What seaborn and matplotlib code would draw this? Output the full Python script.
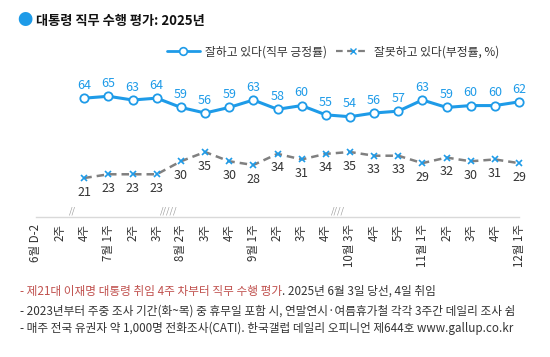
import matplotlib
matplotlib.use("Agg")
import matplotlib.pyplot as plt
import seaborn as sns
import pandas as pd
import numpy as np
from matplotlib.lines import Line2D

# data
weeks = ["6월 D-2", "2주", "4주", "7월 1주", "2주", "3주", "8월 2주", "3주", "4주",
         "9월 1주", "2주", "3주", "4주", "10월 3주", "4주", "5주", "11월 1주",
         "2주", "3주", "4주", "12월 1주"]
approve = [np.nan, np.nan, 64, 65, 63, 64, 59, 56, 59, 63, 58, 60, 55, 54, 56, 57, 63, 59, 60, 60, 62]
disapprove = [np.nan, np.nan, 21, 23, 23, 23, 30, 35, 30, 28, 34, 31, 34, 35, 33, 33, 29, 32, 30, 31, 29]
breaks = {1.5: "//", 5.5: "/////", 12.5: "////"}

BLUE = "#1e9be8"
GRAY = "#808080"
RED = "#c0504d"
TXT = "#333333"

sns.set_style("white")
plt.rcParams['font.family'] = ['Noto Sans CJK KR', 'DejaVu Sans']

df = pd.DataFrame({"x": range(len(weeks)), "approve": approve, "disapprove": disapprove})

W, H = 550, 357
fig = plt.figure(figsize=(W / 100, H / 100), dpi=100)
ax = fig.add_axes([36 / W, (H - 217) / H, 483 / W, 130 / H])

sns.lineplot(data=df, x="x", y="approve", ax=ax, color=BLUE, lw=2.2,
             marker="o", markersize=6, markerfacecolor="white",
             markeredgecolor=BLUE, markeredgewidth=1.3, clip_on=False)
sns.lineplot(data=df, x="x", y="disapprove", ax=ax, color=GRAY, lw=1.8,
             linestyle=(0, (3, 2)), marker="x", markersize=5,
             markeredgecolor=BLUE, markeredgewidth=1.2, clip_on=False)

for x, a, d in zip(df["x"], approve, disapprove):
    if np.isnan(a):
        continue
    ax.annotate(f"{a:.0f}", (x, a), xytext=(0, 4.5), textcoords="offset points",
                ha="center", va="bottom", color=BLUE, fontsize=9, fontweight="medium")
    ax.annotate(f"{d:.0f}", (x, d), xytext=(0, -5.5), textcoords="offset points",
                ha="center", va="top", color=TXT, fontsize=9)

ax.set_xlim(0, len(weeks) - 1)
ax.set_ylim(0, 70)
ax.set_xticks(df["x"])
ax.set_xticklabels(weeks, rotation=90, fontsize=8.3, color=TXT)
ax.tick_params(axis="x", direction="inout", length=4, color="#d0d0d0", pad=3)
ax.set_yticks([])
ax.set_xlabel("")
ax.set_ylabel("")
for s in ["top", "right", "left"]:
    ax.spines[s].set_visible(False)
ax.spines["bottom"].set_color("#d9d9d9")
ax.spines["bottom"].set_linewidth(1)
if ax.get_legend():
    ax.get_legend().remove()

for bx, mark in breaks.items():
    ax.text(bx, 0.6, mark, ha="center", va="bottom", fontsize=6.5,
            color="#999999", style="italic")

# title
fig.text(25 / W, 1 - 21 / H, "●", color=BLUE, fontsize=11, ha="center", va="center")
fig.text(36 / W, 1 - 21 / H, "대통령 직무 수행 평가: 2025년", color="#111111",
         fontsize=9.5, fontweight="bold", ha="left", va="center")

# legend
handles = [
    Line2D([], [], color=BLUE, lw=2, marker="o", markersize=5.5,
           markerfacecolor="white", markeredgecolor=BLUE, markeredgewidth=1.2),
    Line2D([], [], color=GRAY, lw=1.6, linestyle=(0, (3, 2)), marker="x",
           markersize=4.5, markeredgecolor=BLUE),
]
fig.legend(handles, ["잘하고 있다(직무 긍정률)", "잘못하고 있다(부정률, %)"],
           loc="center", bbox_to_anchor=(333 / W, 1 - 52 / H), ncol=2,
           frameon=False, fontsize=8.5, handlelength=2.8, columnspacing=0.8,
           handletextpad=0.4, labelcolor=TXT)

# footnotes
FS = 8.4
t1 = fig.text(20 / W, 1 - 291 / H, "- 제21대 이재명 대통령 취임 4주 차부터 직무 수행 평가",
              color=RED, fontsize=FS, ha="left", va="center")
ax.annotate(". 2025년 6월 3일 당선, 4일 취임", xy=(1, 0.5), xycoords=t1,
            ha="left", va="center", color=TXT, fontsize=FS, annotation_clip=False)
fig.text(20 / W, 1 - 311 / H,
         "- 2023년부터 주중 조사 기간(화~목) 중 휴무일 포함 시, 연말연시·여름휴가철 각각 3주간 데일리 조사 쉼",
         color=TXT, fontsize=FS, ha="left", va="center")
fig.text(20 / W, 1 - 328 / H,
         "- 매주 전국 유권자 약 1,000명 전화조사(CATI). 한국갤럽 데일리 오피니언 제644호 www.gallup.co.kr",
         color=TXT, fontsize=FS, ha="left", va="center")

fig.savefig("out.png", dpi=100, facecolor="white")
